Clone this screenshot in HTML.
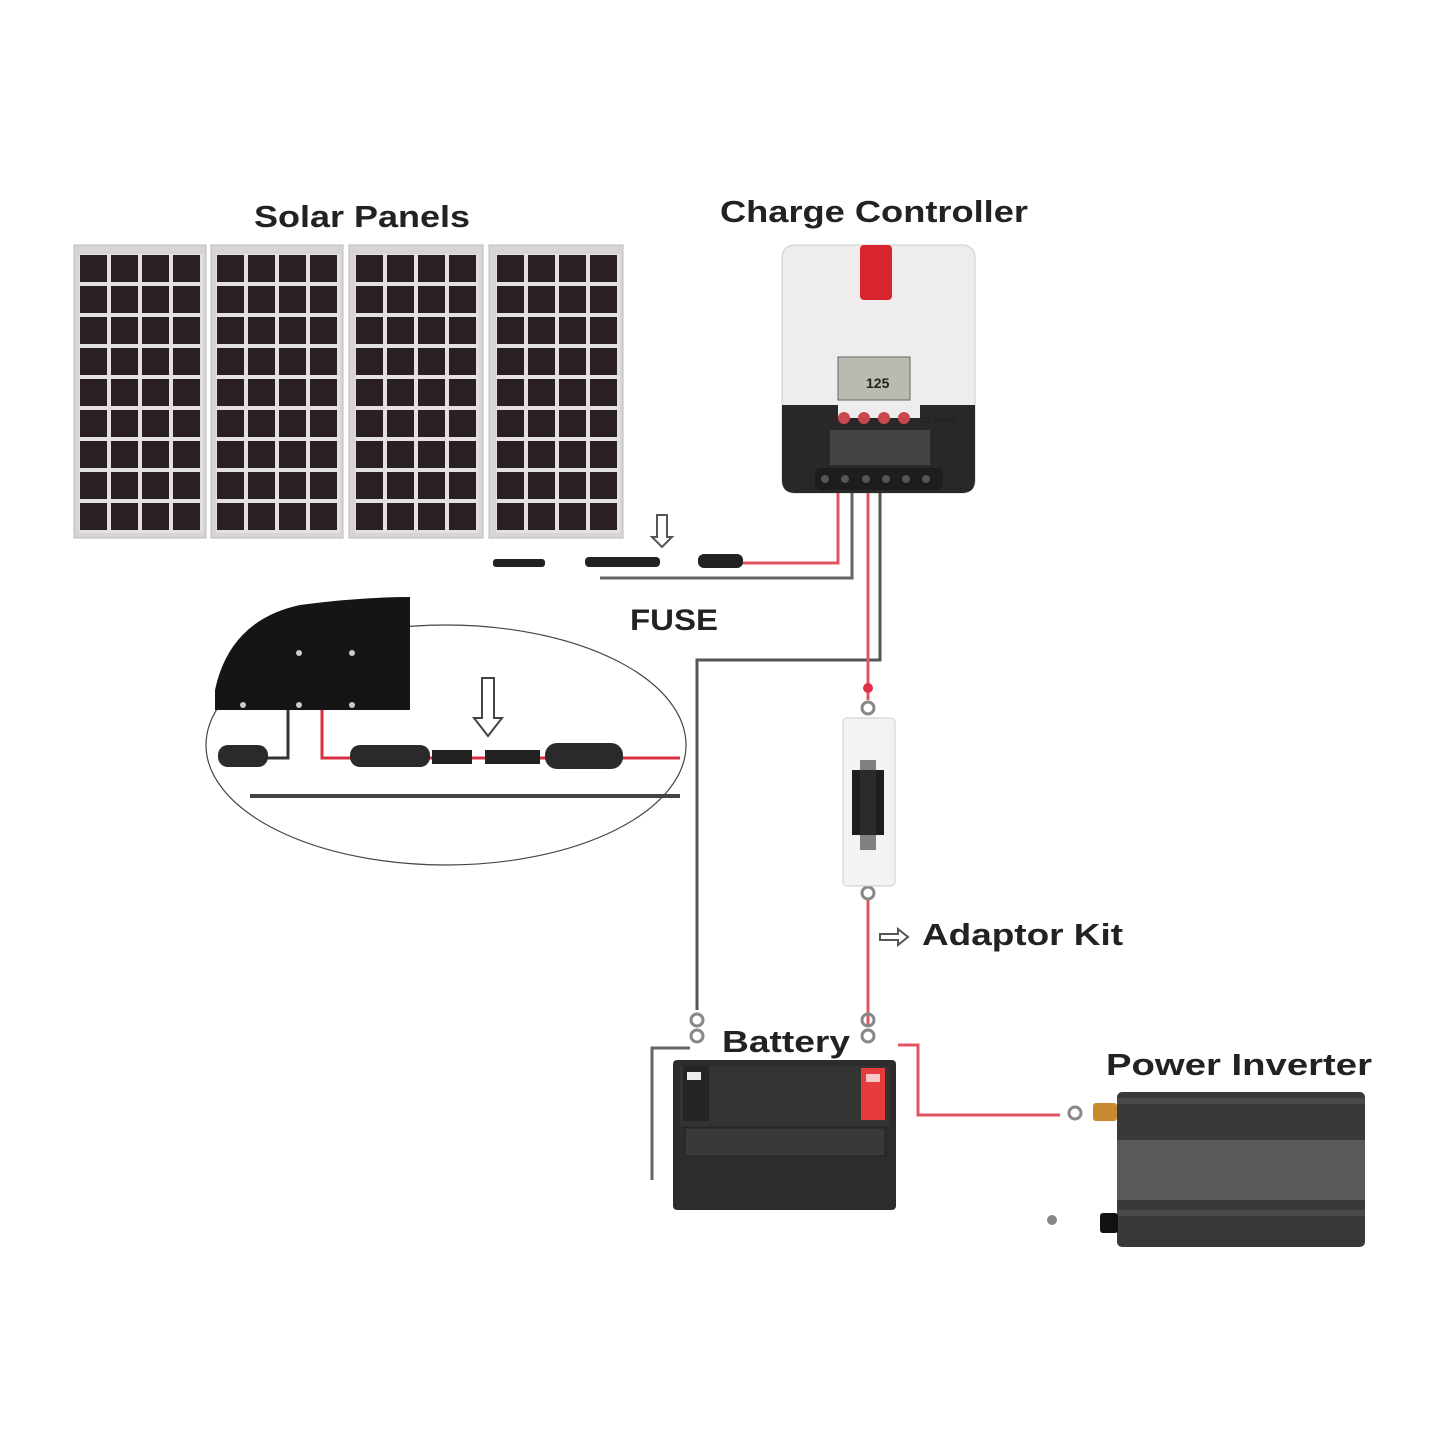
<!DOCTYPE html>
<html><head><meta charset="utf-8"><style>
html,body{margin:0;padding:0;background:#fff}
svg{display:block}
text{font-family:"Liberation Sans",sans-serif;font-weight:bold;fill:#222}
</style></head><body>
<svg width="1445" height="1445" viewBox="0 0 1445 1445" xmlns="http://www.w3.org/2000/svg">
<defs>
<pattern id="cells" x="79" y="254" width="31" height="31" patternUnits="userSpaceOnUse">
<rect x="0" y="0" width="31" height="31" fill="#e4e0e0"/>
<rect x="1" y="1" width="27" height="27" fill="#2a2022"/>
</pattern>
</defs>
<rect width="1445" height="1445" fill="#fff"/>
<text x="254" y="227" font-size="31" textLength="216" lengthAdjust="spacingAndGlyphs">Solar Panels</text>
<text x="720" y="222" font-size="31" textLength="308" lengthAdjust="spacingAndGlyphs">Charge Controller</text>
<text x="630" y="630" font-size="30" textLength="88" lengthAdjust="spacingAndGlyphs">FUSE</text>
<text x="922" y="945" font-size="31" textLength="201" lengthAdjust="spacingAndGlyphs">Adaptor Kit</text>
<text x="722" y="1052" font-size="31" textLength="128" lengthAdjust="spacingAndGlyphs">Battery</text>
<text x="1106" y="1075" font-size="31" textLength="266" lengthAdjust="spacingAndGlyphs">Power Inverter</text>

<!-- panels -->
<g>
<rect x="74" y="245" width="132" height="293" fill="#d8d4d4" stroke="#bbb"/>
<rect x="79" y="254" width="124" height="279" fill="url(#cells)"/>
<rect x="211" y="245" width="132" height="293" fill="#d8d4d4" stroke="#bbb"/>
<rect x="79" y="254" width="124" height="279" fill="url(#cells)" transform="translate(137,0)"/>
<rect x="349" y="245" width="134" height="293" fill="#d8d4d4" stroke="#bbb"/>
<rect x="79" y="254" width="124" height="279" fill="url(#cells)" transform="translate(276,0)"/>
<rect x="489" y="245" width="134" height="293" fill="#d8d4d4" stroke="#bbb"/>
<rect x="79" y="254" width="124" height="279" fill="url(#cells)" transform="translate(417,0)"/>
</g>

<!-- controller -->
<rect x="782" y="245" width="193" height="248" rx="12" fill="#eeecec" stroke="#ccc"/>
<path d="M782 405 H838 V418 H920 V405 H975 V480 Q975 493 962 493 H795 Q782 493 782 480 Z" fill="#2a2728"/>
<rect x="860" y="245" width="32" height="55" rx="4" fill="#d8242c"/>
<rect x="838" y="357" width="72" height="43" fill="#b9bbb1" stroke="#666"/>
<text x="866" y="388" font-size="14" font-weight="normal" fill="#333">125</text>
<circle cx="844" cy="418" r="6" fill="#c9484e"/><circle cx="864" cy="418" r="6" fill="#c9484e"/>
<circle cx="884" cy="418" r="6" fill="#c9484e"/><circle cx="904" cy="418" r="6" fill="#c9484e"/>
<text x="920" y="423" font-size="8" fill="#fff">CE RoHS</text>
<rect x="830" y="430" width="100" height="35" fill="#444"/>
<rect x="815" y="468" width="128" height="22" rx="6" fill="#1e1c1d"/>
<g fill="#555"><circle cx="825" cy="479" r="4"/><circle cx="845" cy="479" r="4"/><circle cx="866" cy="479" r="4"/><circle cx="886" cy="479" r="4"/><circle cx="906" cy="479" r="4"/><circle cx="926" cy="479" r="4"/></g>

<!-- wires -->
<g fill="none" stroke-width="3">
<path d="M838 493 V563 H740" stroke="#e05560"/>
<path d="M852 493 V578 H600" stroke="#666"/>
<path d="M880 493 V660 H697 V1010" stroke="#555"/>
<path d="M868 493 V700" stroke="#e05560"/>
<path d="M868 900 V1025" stroke="#e05560"/>
<path d="M898 1045 H918 V1115 H1060" stroke="#e05560"/>
<path d="M690 1048 H652 V1180" stroke="#666"/>
</g>
<rect x="493" y="559" width="52" height="8" rx="3" fill="#222"/>
<rect x="585" y="557" width="75" height="10" rx="4" fill="#222"/>
<rect x="698" y="554" width="45" height="14" rx="6" fill="#222"/>
<path d="M657 515 h10 v22 h5 l-10 10 l-10 -10 h5 z" fill="#fff" stroke="#555" stroke-width="2"/>

<g fill="none" stroke="#888" stroke-width="3">
<circle cx="868" cy="708" r="6"/><circle cx="868" cy="893" r="6"/>
<circle cx="697" cy="1020" r="6"/><circle cx="697" cy="1036" r="6"/>
<circle cx="868" cy="1020" r="6"/><circle cx="868" cy="1036" r="6"/>
<circle cx="1075" cy="1113" r="6"/>
</g>
<circle cx="868" cy="688" r="5" fill="#d34"/>
<path d="M880 934 h18 v-5 l10 8 l-10 8 v-5 h-18 z" fill="#fff" stroke="#555" stroke-width="2"/>

<!-- fuse holder -->
<rect x="843" y="718" width="52" height="168" rx="4" fill="#f3f3f3" stroke="#ccc"/>
<rect x="852" y="770" width="32" height="65" fill="#1f1d1e"/>
<rect x="860" y="760" width="16" height="90" fill="#333" opacity="0.6"/>

<!-- inset -->
<ellipse cx="446" cy="745" rx="240" ry="120" fill="#fff" stroke="#444" stroke-width="1.2"/>
<path d="M215 710 V690 Q230 620 300 605 Q360 597 410 597 V710 Z" fill="#161414"/>
<g fill="#ccc"><circle cx="299" cy="653" r="3"/><circle cx="352" cy="653" r="3"/><circle cx="243" cy="705" r="3"/><circle cx="299" cy="705" r="3"/><circle cx="352" cy="705" r="3"/></g>
<path d="M288 710 V758 H250" stroke="#333" stroke-width="3" fill="none"/>
<path d="M322 710 V758 H680" stroke="#d83040" stroke-width="3" fill="none"/>
<rect x="218" y="745" width="50" height="22" rx="10" fill="#2a2a2a"/>
<rect x="350" y="745" width="80" height="22" rx="10" fill="#2a2a2a"/>
<rect x="432" y="750" width="40" height="14" fill="#222"/>
<rect x="485" y="750" width="55" height="14" fill="#222"/>
<rect x="545" y="743" width="78" height="26" rx="12" fill="#2a2a2a"/>
<path d="M482 678 h12 v40 h8 l-14 18 l-14 -18 h8 z" fill="#fff" stroke="#444" stroke-width="2"/>
<path d="M250 796 H680" stroke="#444" stroke-width="4"/>

<!-- battery -->
<rect x="673" y="1060" width="223" height="150" rx="4" fill="#2d2b2c"/>
<rect x="680" y="1066" width="210" height="60" fill="#333"/>
<rect x="683" y="1066" width="26" height="55" fill="#262425"/>
<rect x="687" y="1072" width="14" height="8" fill="#eee"/>
<rect x="861" y="1068" width="24" height="52" fill="#e53b3b"/>
<rect x="866" y="1074" width="14" height="8" fill="#f8c8c8"/>
<rect x="685" y="1128" width="200" height="28" fill="#3a3839" stroke="#222"/>

<!-- inverter -->
<rect x="1117" y="1092" width="248" height="155" rx="5" fill="#3a3839"/>
<rect x="1117" y="1140" width="248" height="60" fill="#5a5859"/>
<rect x="1117" y="1098" width="248" height="6" fill="#4a4849"/>
<rect x="1117" y="1210" width="248" height="6" fill="#4a4849"/>
<rect x="1093" y="1103" width="24" height="18" rx="3" fill="#c88a2e"/>
<rect x="1100" y="1213" width="18" height="20" rx="3" fill="#111"/>
<circle cx="1052" cy="1220" r="5" fill="#888"/>
</svg>
</body></html>
